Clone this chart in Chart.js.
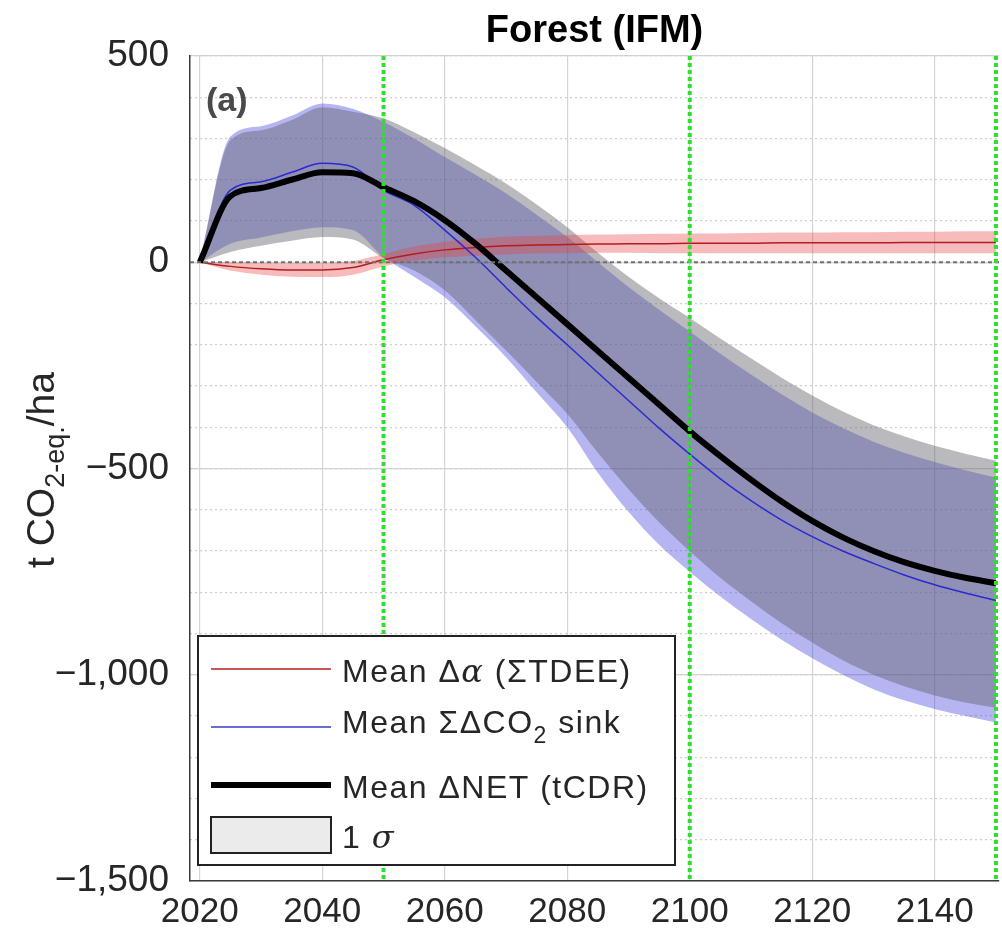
<!DOCTYPE html>
<html lang="en">
<head>
<meta charset="UTF-8">
<title>Forest (IFM)</title>
<script src="https://cdn.jsdelivr.net/npm/chart.js@4.4.1/dist/chart.umd.min.js"></script>
<style>
  html, body { margin: 0; padding: 0; background: #fff; }
  #wrap { width: 1002px; height: 940px; }
</style>
</head>
<body>
<div id="wrap"><canvas id="chart" width="1002" height="940"></canvas></div>
<script>
const years = [2020, 2025, 2030, 2035, 2040, 2045, 2050, 2055, 2060, 2065, 2070, 2075, 2080, 2085,
  2090, 2095, 2100, 2105, 2110, 2115, 2120, 2125, 2130, 2135, 2140, 2145, 2150];

// Mean delta albedo (sum TDEE) and its 1 sigma band
const albedoMean = [0, -10, -16, -19, -19, -13, 6, 20, 30, 36, 40, 42, 43, 44, 45, 45, 46, 46, 46, 47, 47, 47, 47, 48, 48, 48, 48];
const albedoUpper = [0, 0, -1, -2, -2, 3, 20, 38, 50, 57, 62, 64, 66, 67, 68, 69, 70, 70, 71, 72, 72, 73, 73, 74, 74, 75, 75];
const albedoLower = [0, -20, -30, -35, -36, -30, -10, 4, 12, 16, 19, 21, 22, 23, 23, 22, 22, 22, 22, 22, 22, 22, 22, 22, 22, 22, 22];

// Mean sum delta CO2 sink and its 1 sigma band
const sinkMean = [0, 175, 195, 218, 240, 231, 175, 138, 78, 12, -61, -133, -200, -268, -335, -402, -465, -525, -578, -625, -665, -700, -730, -758, -782, -802, -820];
const sinkUpper = [0, 305, 330, 355, 385, 372, 340, 300, 255, 212, 167, 115, 61, 0, -60, -115, -168, -222, -272, -320, -364, -402, -435, -462, -484, -504, -522];
const sinkLower = [0, 45, 60, 75, 85, 78, 12, -35, -85, -155, -230, -315, -400, -510, -605, -685, -750, -810, -865, -915, -960, -1000, -1035, -1062, -1083, -1100, -1116];

// Mean delta NET (tCDR) and its 1 sigma band
const netMean = [0, 160, 180, 200, 218, 216, 182, 148, 102, 45, -20, -85, -150, -215, -280, -345, -410, -470, -527, -580, -627, -667, -700, -727, -748, -765, -778];
const netUpper = [0, 296, 320, 345, 376, 365, 349, 315, 277, 235, 191, 140, 85, 23, -35, -87, -135, -185, -233, -280, -323, -362, -395, -422, -445, -464, -481];
const netLower = [0, 25, 40, 52, 61, 55, 10, -20, -68, -140, -214, -290, -367, -462, -550, -630, -700, -765, -822, -875, -922, -965, -1000, -1028, -1050, -1067, -1080];

const milestoneYears = [2050, 2100, 2150];
const xTicks = [2020, 2040, 2060, 2080, 2100, 2120, 2140];
const yTicks = [-1500, -1000, -500, 0, 500];

const FONT = "'Liberation Sans', Arial, Helvetica, sans-serif";

function pts(vals) {
  return years.map((x, i) => ({ x: x, y: vals[i] }));
}

function band(vals, color, order, target) {
  return {
    data: pts(vals),
    borderWidth: 0,
    borderColor: 'rgba(0,0,0,0)',
    backgroundColor: color,
    pointRadius: 0,
    fill: target === undefined ? false : target,
    order: order
  };
}

function line(vals, color, width, order) {
  return {
    data: pts(vals),
    borderColor: color,
    borderWidth: width,
    pointRadius: 0,
    fill: false,
    order: order
  };
}

// draw a row of text pieces with different fonts / baseline shifts
function drawRuns(ctx, x, y, runs) {
  let cx = x;
  for (const r of runs) {
    ctx.font = r.font;
    ctx.fillText(r.t, cx, y + (r.dy || 0));
    cx += ctx.measureText(r.t).width;
  }
  return cx - x;
}

function runsWidth(ctx, runs) {
  let w = 0;
  for (const r of runs) {
    ctx.font = r.font;
    w += ctx.measureText(r.t).width;
  }
  return w;
}

const overlay = {
  id: 'overlay',
  afterDatasetsDraw(chart) {
    const { ctx, chartArea: a, scales: { x, y } } = chart;
    ctx.save();
    ctx.beginPath();
    ctx.rect(a.left, a.top - 2, a.right - a.left + 4, a.bottom - a.top + 4);
    ctx.clip();

    // zero reference line
    const y0 = y.getPixelForValue(0);
    ctx.strokeStyle = '#707070';
    ctx.lineWidth = 2;
    ctx.setLineDash([4, 3]);
    ctx.beginPath();
    ctx.moveTo(a.left, y0);
    ctx.lineTo(a.right, y0);
    ctx.stroke();

    // milestone years
    ctx.strokeStyle = '#2ee02e';
    ctx.lineWidth = 4;
    ctx.setLineDash([4, 3]);
    for (const yr of milestoneYears) {
      const px = x.getPixelForValue(yr);
      ctx.beginPath();
      ctx.moveTo(px, a.top);
      ctx.lineTo(px, a.bottom);
      ctx.stroke();
    }
    ctx.restore();
  },
  afterDraw(chart) {
    const { ctx, chartArea: a } = chart;
    ctx.save();
    ctx.textBaseline = 'alphabetic';

    // title
    ctx.fillStyle = '#000';
    ctx.font = 'bold 38px ' + FONT;
    ctx.textAlign = 'center';
    ctx.fillText('Forest (IFM)', (a.left + a.right) / 2, 42);

    // panel letter
    ctx.textAlign = 'left';
    ctx.fillStyle = '#4a4a4a';
    ctx.font = 'bold 34px ' + FONT;
    ctx.fillText('(a)', a.left + 16, 111);

    // y axis title with subscript
    ctx.fillStyle = '#262626';
    const yl = [
      { t: 't CO', font: '39px ' + FONT },
      { t: '2-eq.', font: '27px ' + FONT, dy: 10 },
      { t: '/ha', font: '39px ' + FONT }
    ];
    ctx.translate(54, 470);
    ctx.rotate(-Math.PI / 2);
    drawRuns(ctx, -runsWidth(ctx, yl) / 2, 0, yl);
    ctx.setTransform(1, 0, 0, 1, 0, 0);

    // legend
    const L = 198, T = 636, R = 675, B = 865;
    ctx.fillStyle = '#fff';
    ctx.fillRect(L, T, R - L, B - T);
    ctx.strokeStyle = '#222';
    ctx.lineWidth = 2;
    ctx.strokeRect(L, T, R - L, B - T);

    const sx0 = 211, sx1 = 331, tx = 342;
    const nf = '32px ' + FONT;
    const itf = 'italic 32px "DejaVu Serif", "Liberation Serif", serif';
    ctx.letterSpacing = '1.5px';
    const rows = [
      { y: 669, base: 682, color: '#b01e1e', w: 1.5, runs: [{ t: 'Mean \u0394', font: nf }, { t: '\u03b1', font: itf }, { t: ' (\u03a3TDEE)', font: nf }] },
      { y: 727, base: 733, color: '#3a3ac8', w: 1.5, runs: [{ t: 'Mean \u03a3\u0394CO', font: nf }, { t: '2', font: '23px ' + FONT, dy: 10 }, { t: ' sink', font: nf }] },
      { y: 785, base: 798, color: '#000', w: 6, runs: [{ t: 'Mean \u0394NET (tCDR)', font: nf }] }
    ];
    for (const r of rows) {
      ctx.strokeStyle = r.color;
      ctx.lineWidth = r.w;
      ctx.beginPath();
      ctx.moveTo(sx0, r.y);
      ctx.lineTo(sx1, r.y);
      ctx.stroke();
      ctx.fillStyle = '#262626';
      drawRuns(ctx, tx, r.base, r.runs);
    }
    ctx.fillStyle = '#ebebeb';
    ctx.fillRect(sx0, 817, sx1 - sx0, 36);
    ctx.strokeStyle = '#222';
    ctx.lineWidth = 2;
    ctx.strokeRect(sx0, 817, sx1 - sx0, 36);
    ctx.fillStyle = '#262626';
    drawRuns(ctx, tx, 848, [{ t: '1 ', font: nf }, { t: '\u03c3', font: itf }]);
    ctx.restore();
  }
};

const datasets = [
  line(netMean, '#000000', 6, 0),
  line(sinkMean, '#2a2ad0', 1.5, 1),
  line(albedoMean, '#b01e1e', 1.5, 2),
  band(albedoUpper, 'rgba(235,60,60,0.35)', 3, 4),
  band(albedoLower, 'rgba(0,0,0,0)', 3),
  band(netUpper, 'rgba(100,100,110,0.45)', 4, 6),
  band(netLower, 'rgba(0,0,0,0)', 4),
  band(sinkUpper, 'rgba(60,60,220,0.38)', 5, 8),
  band(sinkLower, 'rgba(0,0,0,0)', 5)
];

new Chart(document.getElementById('chart'), {
  type: 'line',
  data: { datasets: datasets },
  options: {
    responsive: false,
    animation: false,
    devicePixelRatio: 1,
    layout: { padding: { left: 0, top: 56, right: 3, bottom: 0 } },
    elements: { line: { cubicInterpolationMode: 'monotone' } },
    plugins: { legend: { display: false }, tooltip: { enabled: false }, title: { display: false } },
    scales: {
      x: {
        type: 'linear',
        min: 2018.4,
        max: 2150.5,
        afterBuildTicks: s => { s.ticks = xTicks.map(v => ({ value: v })); },
        afterFit: s => { s.height = 59; },
        grid: { color: '#d4d4d4', lineWidth: 1.2, drawTicks: false },
        border: { color: '#3a3a3a', width: 1.5 },
        ticks: { color: '#262626', font: { family: FONT, size: 35 }, padding: 10, maxRotation: 0, callback: v => String(v) }
      },
      y: {
        type: 'linear',
        position: 'left',
        min: -1500,
        max: 500,
        afterBuildTicks: s => { s.ticks = yTicks.map(v => ({ value: v })); },
        afterFit: s => { s.width = 190; },
        grid: { color: '#d4d4d4', lineWidth: 1.2, drawTicks: false },
        border: { color: '#3a3a3a', width: 1.5 },
        ticks: {
          color: '#262626',
          font: { family: FONT, size: 37 },
          padding: 21,
          callback: v => v === 0 ? '0' : (v < 0 ? '\u2212' : '') + Math.abs(v).toLocaleString('en-US')
        }
      },
      yMinor: {
        type: 'linear',
        position: 'left',
        min: -1500,
        max: 500,
        afterFit: s => { s.width = 0; },
        ticks: { display: false, stepSize: 100 },
        grid: { color: '#cfcfcf', lineWidth: 1.2, drawTicks: false },
        border: { display: false, dash: [2, 3] }
      }
    }
  },
  plugins: [overlay]
});
</script>
</body>
</html>
